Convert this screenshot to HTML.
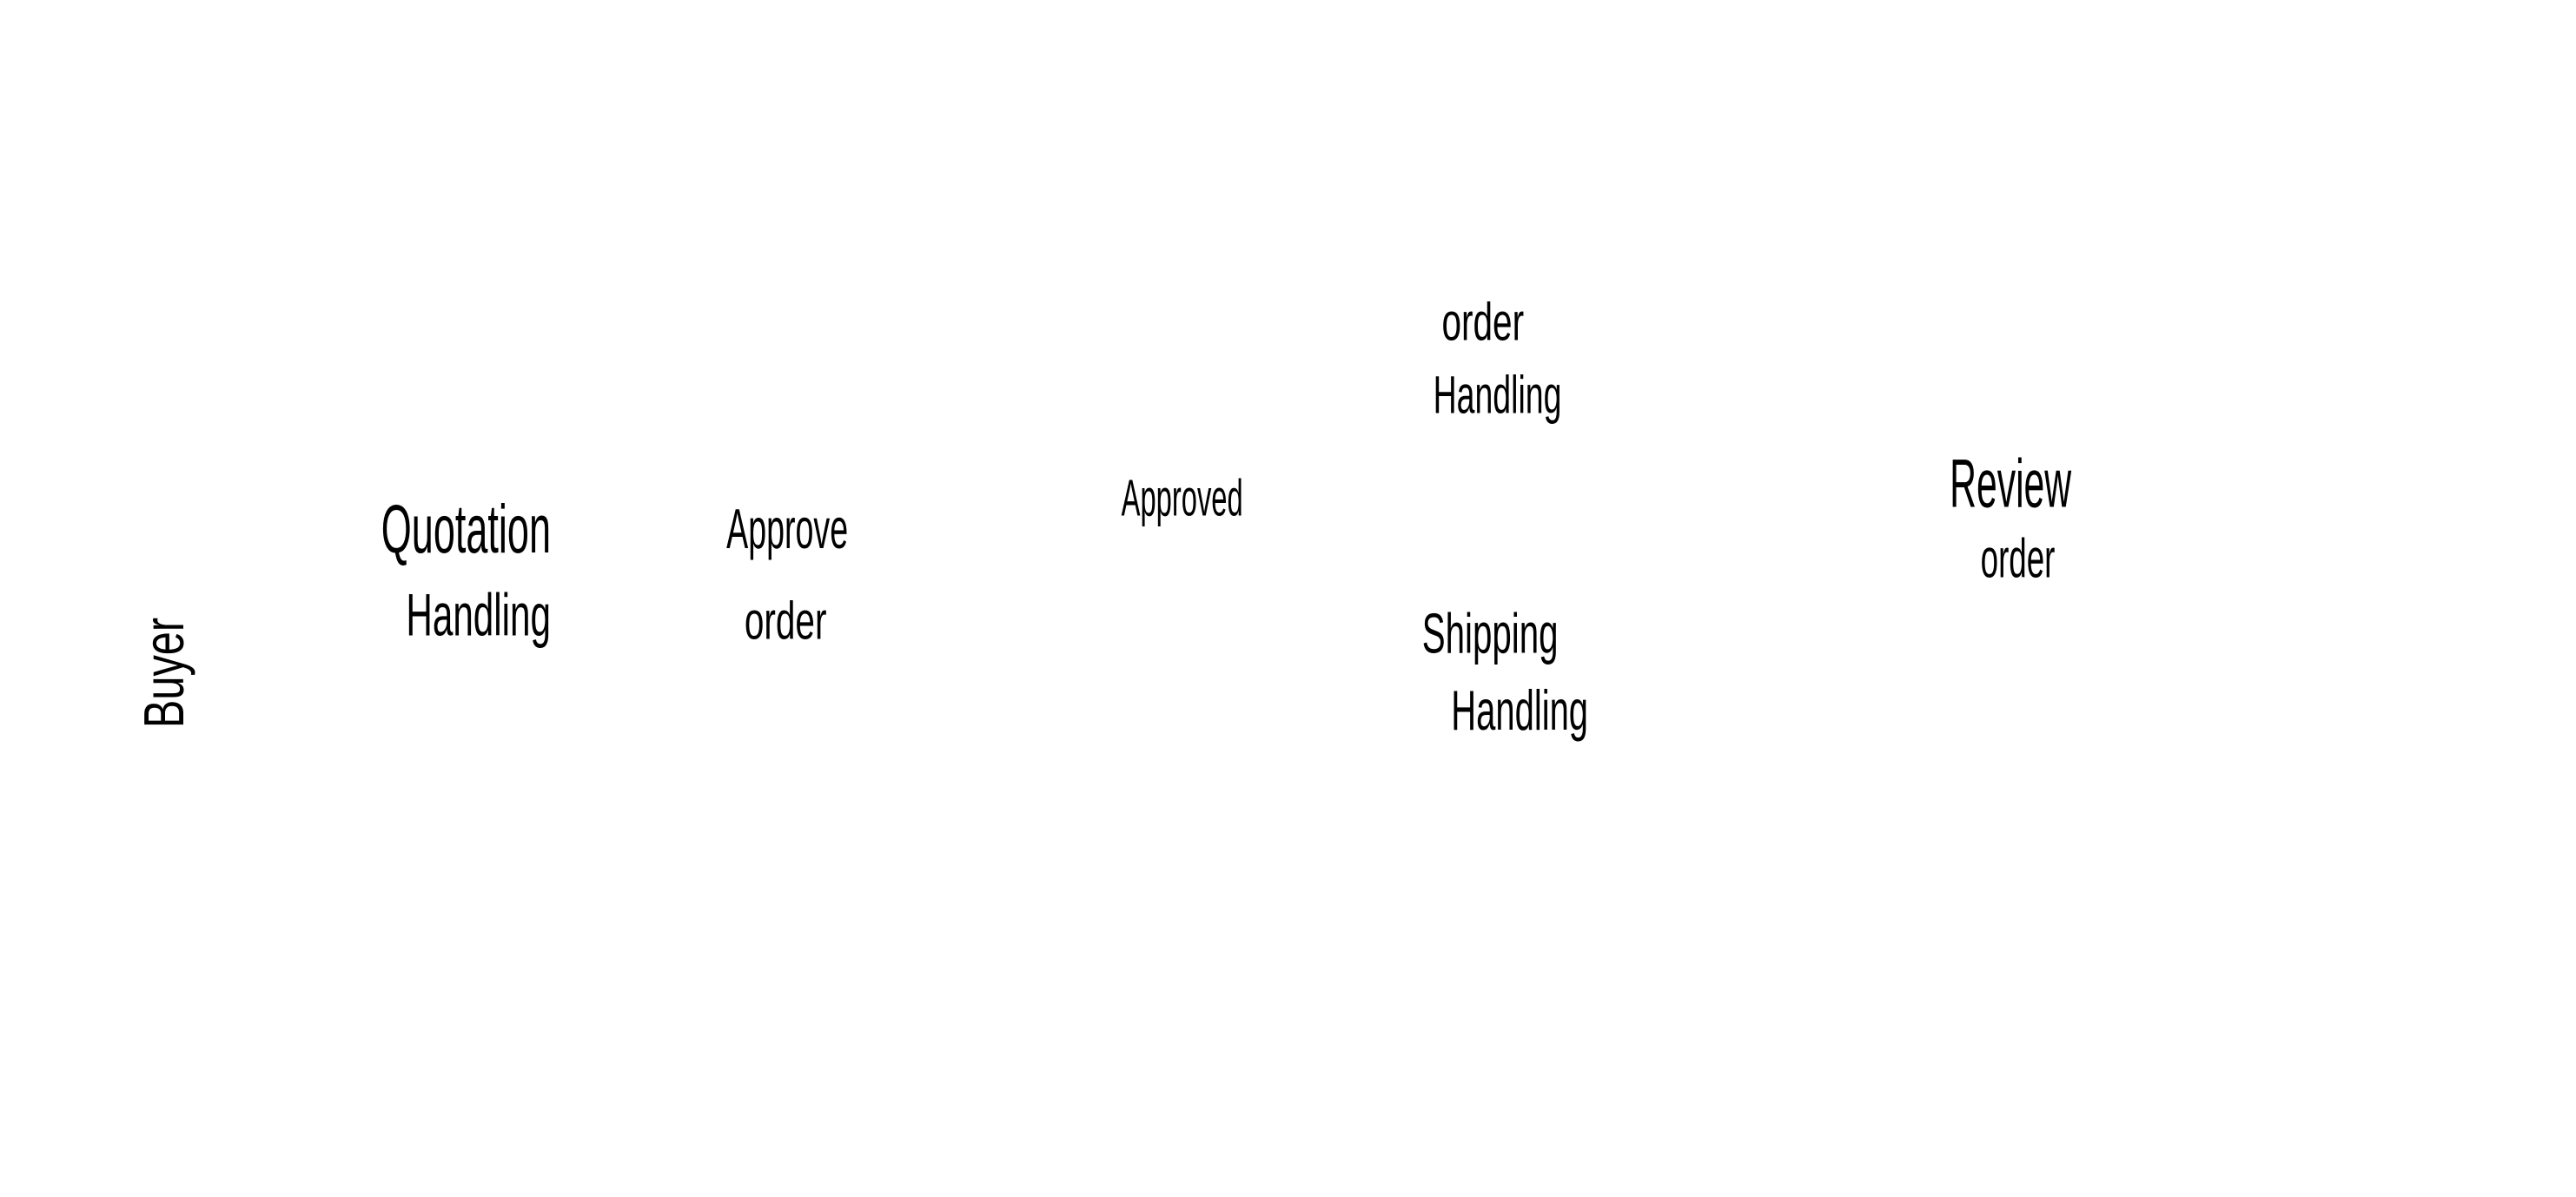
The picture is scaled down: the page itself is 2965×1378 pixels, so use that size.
<!DOCTYPE html>
<html><head><meta charset="utf-8"><style>
html,body{margin:0;padding:0;background:#fff;width:2965px;height:1378px;overflow:hidden}
svg text{font-family:"Liberation Sans",sans-serif;fill:#000}
</style></head><body>
<svg width="2965" height="1378" xmlns="http://www.w3.org/2000/svg">
<g transform="scale(0.986)">
<text x="1683" y="397" font-size="62" textLength="96" lengthAdjust="spacingAndGlyphs">order</text>
<text x="1673" y="482" font-size="62" textLength="150" lengthAdjust="spacingAndGlyphs">Handling</text>
<text x="2276" y="592" font-size="80" textLength="142" lengthAdjust="spacingAndGlyphs">Review</text>
<text x="2312" y="674" font-size="64" textLength="87" lengthAdjust="spacingAndGlyphs">order</text>
<text x="445" y="645" font-size="80" textLength="198" lengthAdjust="spacingAndGlyphs">Quotation</text>
<text x="474" y="742" font-size="70" textLength="169" lengthAdjust="spacingAndGlyphs">Handling</text>
<text x="848" y="640" font-size="66" textLength="142" lengthAdjust="spacingAndGlyphs">Approve</text>
<text x="869" y="746" font-size="62" textLength="96" lengthAdjust="spacingAndGlyphs">order</text>
<text x="1309" y="602" font-size="60" textLength="142" lengthAdjust="spacingAndGlyphs">Approved</text>
<text x="1660" y="762" font-size="66" textLength="159" lengthAdjust="spacingAndGlyphs">Shipping</text>
<text x="1694" y="852" font-size="66" textLength="160" lengthAdjust="spacingAndGlyphs">Handling</text>
<text transform="translate(214,850) rotate(-90)" font-size="66" textLength="129" lengthAdjust="spacingAndGlyphs">Buyer</text>
</g>
</svg>
</body></html>
